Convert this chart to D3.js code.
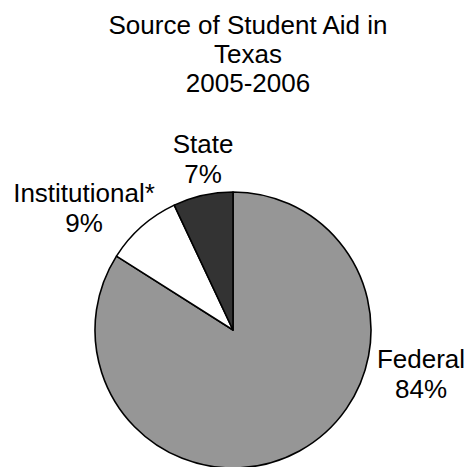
<!DOCTYPE html>
<html>
<head>
<meta charset="utf-8">
<script src="https://cdn.jsdelivr.net/npm/d3@7/dist/d3.min.js"></script>
<style>
  html, body { margin: 0; padding: 0; background: #fff; }
  svg { display: block; }
  text { font-family: "Liberation Sans", Arial, Helvetica, sans-serif; fill: #000; }
</style>
</head>
<body>
<svg id="chart" width="467" height="467"></svg>
<script>
// Aid sources and their shares (percent)
const categories = ["Federal", "Institutional*", "State"];
const shares = [84, 9, 7];
const titleLines = ["Source of Student Aid in", "Texas", "2005-2006"];

// Slice fills
const fills = ["#969696", "#ffffff", "#333333"];

// Label anchor offsets from the pie centre (first-line baseline)
const labelOffsets = [[188, 38], [-149, -128], [-30, -177]];

const W = 467, H = 467;
const cx = 233, cy = 330, radius = 138;
const fontSize = 26;

const svg = d3.select("#chart");

// Title
const title = svg.append("text")
  .attr("text-anchor", "middle")
  .attr("font-size", fontSize);
title.selectAll("tspan")
  .data(titleLines)
  .join("tspan")
  .attr("x", 248)
  .attr("y", (d, i) => 33.5 + i * 29)
  .text(d => d);

const data = categories.map((c, i) => ({ name: c, value: shares[i], fill: fills[i], off: labelOffsets[i] }));

const pie = d3.pie().sort(null).value(d => d.value).startAngle(0).endAngle(2 * Math.PI);
const arc = d3.arc().innerRadius(0).outerRadius(radius);

const g = svg.append("g").attr("transform", `translate(${cx},${cy})`);

g.selectAll("path")
  .data(pie(data))
  .join("path")
  .attr("d", arc)
  .attr("fill", d => d.data.fill)
  .attr("stroke", "#000")
  .attr("stroke-width", 1.6)
  .attr("stroke-linejoin", "round");

// Category labels with percentage underneath
const labels = g.selectAll("text.lbl")
  .data(pie(data))
  .join("text")
  .attr("class", "lbl")
  .attr("text-anchor", "middle")
  .attr("font-size", fontSize);

labels.append("tspan")
  .attr("x", d => d.data.off[0])
  .attr("y", d => d.data.off[1])
  .text(d => d.data.name);

labels.append("tspan")
  .attr("x", d => d.data.off[0])
  .attr("y", d => d.data.off[1] + 30)
  .text(d => d3.format(".0f")(d.data.value) + "%");
</script>
</body>
</html>
